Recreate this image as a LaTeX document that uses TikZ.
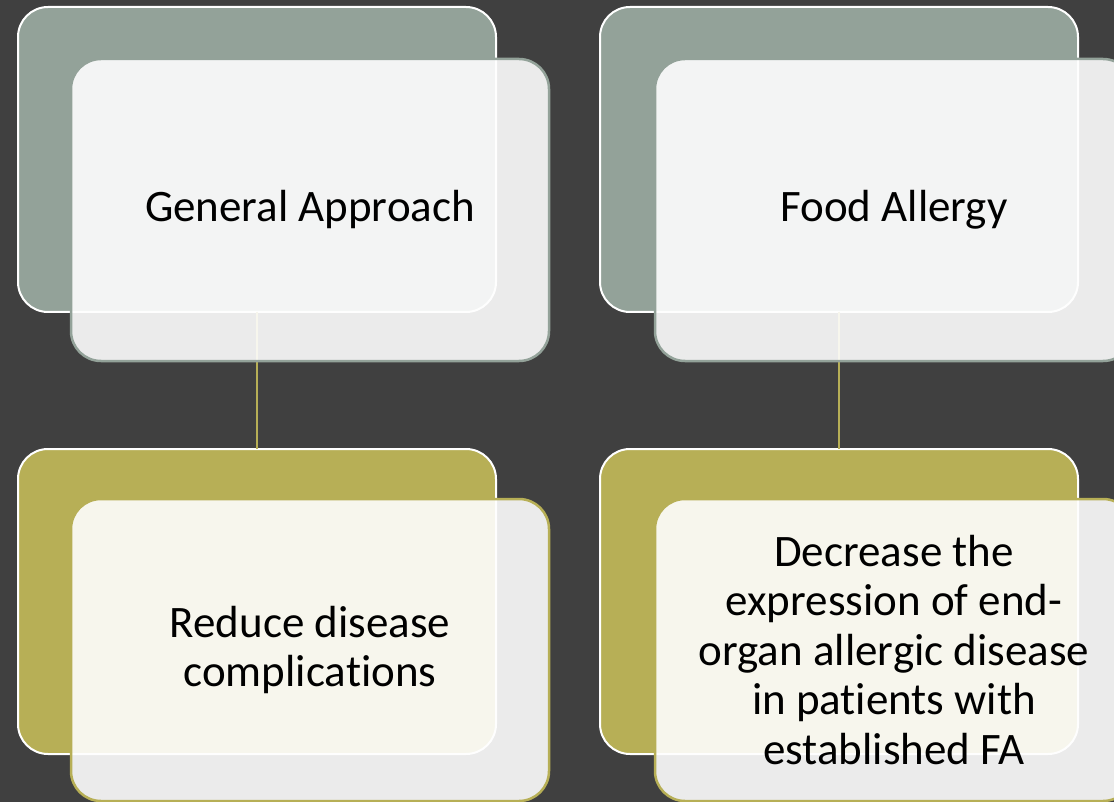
\documentclass[tikz,border=0pt]{standalone}
\usepackage{fontspec}
\setmainfont{Carlito}[Ligatures=NoCommon]
\usetikzlibrary{positioning}
\definecolor{bgdark}{HTML}{404040}
\definecolor{sage}{HTML}{93A299}
\definecolor{olive}{HTML}{B7AF56}
\definecolor{paper}{HTML}{FEFEFE}

\begin{document}
\begin{tikzpicture}[
  x=1pt, y=-1pt,
  every node/.style={inner sep=0pt, outer sep=0pt, align=center},
  backbox/.style={
    draw=white, line width=2pt, rounded corners=30pt,
    minimum width=478pt, minimum height=305pt, anchor=north west
  },
  frontbox/.style={
    draw=#1, line width=2.5pt, rounded corners=30pt,
    fill=paper, fill opacity=0.9, text opacity=1,
    minimum width=478pt, minimum height=302pt,
    font=\fontsize{45}{49.5}\selectfont
  },
  link/.style={draw=olive, line width=2.5pt}
]

\fill[bgdark] (0,0) rectangle (1114,802);
\useasboundingbox (0,0) rectangle (1114,802);

% back boxes
\node[backbox, fill=sage] (genback) at (18,7) {};
\node[backbox, fill=sage, right=104pt of genback.north east, anchor=north west] (foodback) {};
\node[backbox, fill=olive, below=137pt of genback.south west, anchor=north west] (redback) {};
\node[backbox, fill=olive, below=137pt of foodback.south west, anchor=north west] (decback) {};

% connectors
\draw[link] (genback.south) -- (redback.north);
\draw[link] (foodback.south) -- (decback.north);

% front boxes
\node[frontbox=sage, below right=52pt and 53pt of genback.north west] (gen) {General Approach};
\node[frontbox=sage, below right=52pt and 55pt of foodback.north west] (food) {Food Allergy};
\node[frontbox=olive, below right=50pt and 53pt of redback.north west] (red) {Reduce disease\\complications};
\node[frontbox=olive, below right=50pt and 55pt of decback.north west] (dec) {Decrease the\\expression of end-\\organ allergic disease\\in patients with\\established FA};

\end{tikzpicture}
\end{document}
